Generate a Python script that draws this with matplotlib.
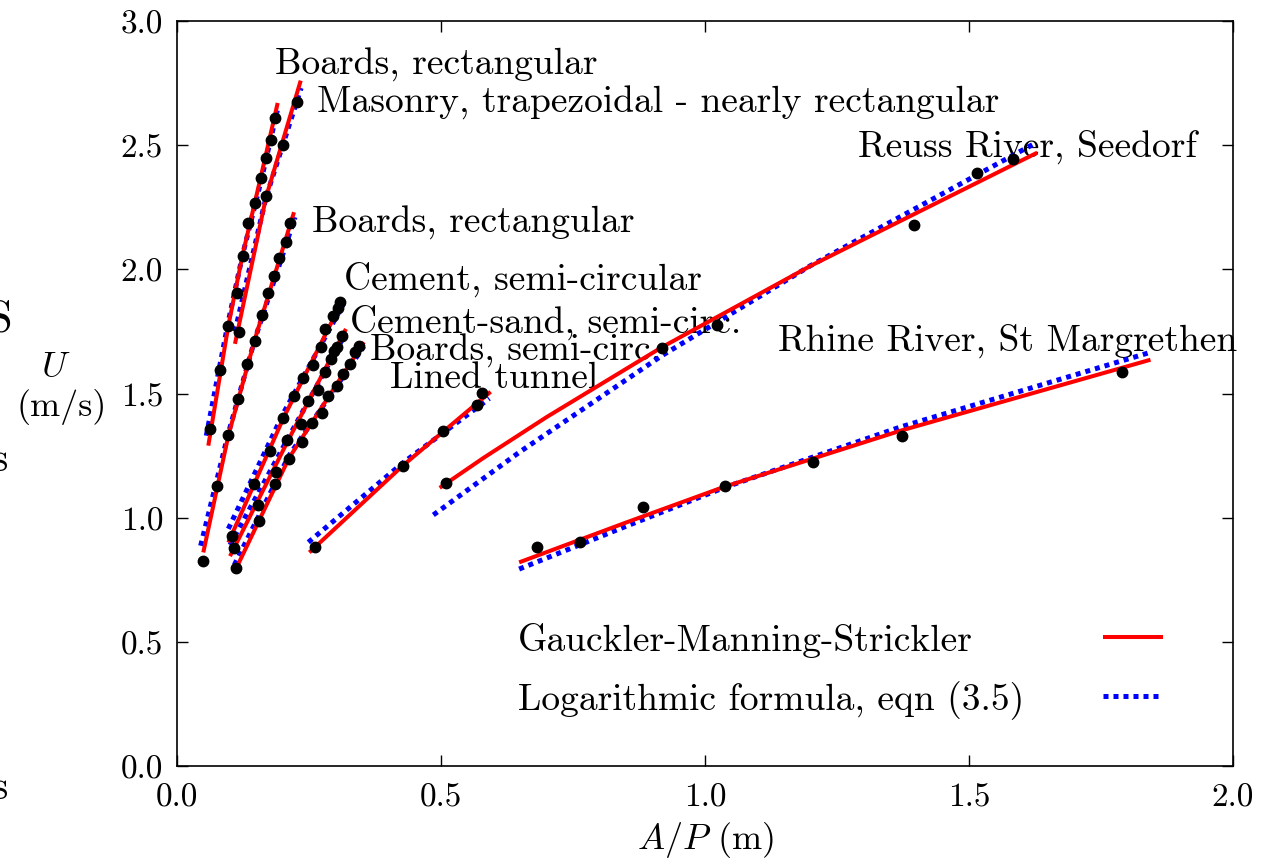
import matplotlib
matplotlib.use('Agg')
import matplotlib.pyplot as plt

plt.rcParams['font.family'] = 'cmr10'
plt.rcParams['mathtext.fontset'] = 'cm'
plt.rcParams['axes.unicode_minus'] = False

# ---------------- measured data: A/P (m) and U (m/s) ----------------
# Boards, rectangular (upper)
br1_x = [0.0625, 0.0814, 0.0972, 0.1131, 0.1244, 0.1350, 0.1477, 0.1585, 0.1680, 0.1775, 0.1856]
br1_u = [1.357, 1.596, 1.773, 1.905, 2.053, 2.187, 2.266, 2.367, 2.450, 2.521, 2.610]
br1_gms_x = [0.0593, 0.0972, 0.1244, 0.1585, 0.1907]
br1_gms_u = [1.290, 1.773, 2.060, 2.370, 2.670]
br1_log_x = [0.0555, 0.0972, 0.1244, 0.1585, 0.1900]
br1_log_u = [1.330, 1.790, 2.060, 2.350, 2.640]

# Masonry, trapezoidal - nearly rectangular
mas_x = [0.1174, 0.1686, 0.2002, 0.2267]
mas_u = [1.746, 2.294, 2.501, 2.673]
mas_gms_x = [0.1098, 0.1686, 0.2343]
mas_gms_u = [1.700, 2.290, 2.760]
mas_log_x = [0.1098, 0.1686, 0.2350]
mas_log_u = [1.750, 2.290, 2.730]

# Boards, rectangular (lower)
br2_x = [0.0498, 0.0763, 0.0972, 0.1150, 0.1320, 0.1477, 0.1604, 0.1718, 0.1843, 0.1938, 0.2059, 0.2140]
br2_u = [0.827, 1.126, 1.333, 1.478, 1.619, 1.710, 1.817, 1.904, 1.972, 2.044, 2.109, 2.187]
br2_gms_x = [0.0498, 0.0972, 0.1477, 0.2216]
br2_gms_u = [0.860, 1.330, 1.720, 2.230]
br2_log_x = [0.0448, 0.0972, 0.1477, 0.2235]
br2_log_u = [0.887, 1.340, 1.720, 2.210]

# Cement, semi-circular
cem_x = [0.1047, 0.1464, 0.1761, 0.2013, 0.2216, 0.2392, 0.2570, 0.2722, 0.2803, 0.2949, 0.3055, 0.3087]
cem_u = [0.925, 1.136, 1.270, 1.400, 1.491, 1.563, 1.615, 1.686, 1.760, 1.813, 1.843, 1.867]
cem_gms_x = [0.0972, 0.2013, 0.3150]
cem_gms_u = [0.900, 1.400, 1.881]
cem_log_x = [0.0972, 0.2013, 0.3150]
cem_log_u = [0.955, 1.420, 1.860]

# Cement-sand, semi-circ.
cs_x = [0.1080, 0.1540, 0.1875, 0.2078, 0.2343, 0.2487, 0.2676, 0.2803, 0.2917, 0.2970, 0.3025, 0.3120]
cs_u = [0.878, 1.051, 1.183, 1.314, 1.377, 1.468, 1.513, 1.588, 1.639, 1.671, 1.687, 1.733]
cs_gms_x = [0.1004, 0.2078, 0.3200]
cs_gms_u = [0.845, 1.300, 1.760]
cs_log_x = [0.1004, 0.2078, 0.3200]
cs_log_u = [0.890, 1.310, 1.745]

# Boards, semi-circ.
bs_x = [0.1117, 0.1559, 0.1856, 0.2121, 0.2373, 0.2551, 0.2741, 0.2866, 0.3036, 0.3150, 0.3277, 0.3371, 0.3453]
bs_u = [0.796, 0.988, 1.136, 1.236, 1.304, 1.381, 1.422, 1.489, 1.531, 1.579, 1.619, 1.666, 1.692]
bs_gms_x = [0.1086, 0.2121, 0.3540]
bs_gms_u = [0.780, 1.240, 1.707]
bs_log_x = [0.1086, 0.2121, 0.3540]
bs_log_u = [0.810, 1.250, 1.690]

# Lined tunnel
lt_x = [0.2614, 0.4274, 0.5044, 0.5676, 0.5771]
lt_u = [0.883, 1.209, 1.350, 1.454, 1.502]
lt_gms_x = [0.2506, 0.4274, 0.5940]
lt_gms_u = [0.860, 1.209, 1.507]
lt_log_x = [0.2487, 0.4274, 0.5915]
lt_log_u = [0.901, 1.220, 1.480]

# Reuss River, Seedorf
re_x = [0.509, 0.918, 1.022, 1.396, 1.515, 1.584]
re_u = [1.140, 1.682, 1.777, 2.180, 2.387, 2.444]
re_gms_x = [0.4975, 0.580, 0.700, 0.918, 1.200, 1.6294]
re_gms_u = [1.120, 1.240, 1.405, 1.686, 2.014, 2.470]
re_log_x = [0.4855, 0.650, 0.918, 1.200, 1.628]
re_log_u = [1.011, 1.266, 1.652, 2.015, 2.511]

# Rhine River, St Margrethen
rh_x = [0.6815, 0.7631, 0.8835, 1.0375, 1.2051, 1.3727, 1.7894]
rh_u = [0.883, 0.904, 1.044, 1.126, 1.223, 1.328, 1.585]
rh_gms_x = [0.648, 0.850, 1.0375, 1.370, 1.8437]
rh_gms_u = [0.820, 0.980, 1.125, 1.350, 1.636]
rh_log_x = [0.648, 0.850, 1.0375, 1.370, 1.839]
rh_log_u = [0.793, 0.965, 1.122, 1.365, 1.663]

# Labels: (text, x, baseline y)
label_texts = ['Boards, rectangular', 'Masonry, trapezoidal - nearly rectangular',
               'Boards, rectangular', 'Cement, semi-circular', 'Cement-sand, semi-circ.',
               'Boards, semi-circ.', 'Lined tunnel', 'Reuss River, Seedorf',
               'Rhine River, St Margrethen']
label_x = [0.1856, 0.2652, 0.2557, 0.3163, 0.3277, 0.3655, 0.4034, 1.2898, 1.1383]
label_y = [2.787, 2.634, 2.150, 1.921, 1.748, 1.635, 1.526, 2.457, 1.675]

legend_labels = ['Gauckler-Manning-Strickler', 'Logarithmic formula, eqn (3.5)']

x_ticks = [0.0, 0.5, 1.0, 1.5, 2.0]
y_ticks = [0.0, 0.5, 1.0, 1.5, 2.0, 2.5, 3.0]

# ---------------------------------------------------------------------
fig = plt.figure(figsize=(12.76, 8.62), dpi=100)
ax = fig.add_axes([177/1276, 95/862, 1056/1276, 745/862])

points = [(br1_x, br1_u), (mas_x, mas_u), (br2_x, br2_u), (cem_x, cem_u), (cs_x, cs_u),
          (bs_x, bs_u), (lt_x, lt_u), (re_x, re_u), (rh_x, rh_u)]
gms = [(br1_gms_x, br1_gms_u), (mas_gms_x, mas_gms_u), (br2_gms_x, br2_gms_u),
       (cem_gms_x, cem_gms_u), (cs_gms_x, cs_gms_u), (bs_gms_x, bs_gms_u),
       (lt_gms_x, lt_gms_u), (re_gms_x, re_gms_u), (rh_gms_x, rh_gms_u)]
logs = [(br1_log_x, br1_log_u), (mas_log_x, mas_log_u), (br2_log_x, br2_log_u),
        (cem_log_x, cem_log_u), (cs_log_x, cs_log_u), (bs_log_x, bs_log_u),
        (lt_log_x, lt_log_u), (re_log_x, re_log_u), (rh_log_x, rh_log_u)]

red_handle = None
blue_handle = None
for (lx, lu) in logs:
    l, = ax.plot(lx, lu, color='#0000ff', lw=3.6, linestyle=(0, (1, 1)),
                 dash_capstyle='butt', zorder=2)
    blue_handle = l
for (gx, gu) in gms:
    l, = ax.plot(gx, gu, color='#ff0000', lw=2.9, solid_capstyle='butt', zorder=3)
    red_handle = l
for (px, pu) in points:
    ax.plot(px, pu, 'o', color='black', ms=7.5, zorder=4)

for t, x, y in zip(label_texts, label_x, label_y):
    ax.text(x, y, t, fontsize=27, ha='left', va='baseline', zorder=1)

ax.set_xlim(0, 2)
ax.set_ylim(0, 3)
ax.set_xticks(x_ticks)
ax.set_yticks(y_ticks)
ax.tick_params(direction='in', top=True, right=True, length=8, width=1.0,
               labelsize=24)
ax.tick_params(axis='x', pad=12)
ax.tick_params(axis='y', pad=10)
for s in ax.spines.values():
    s.set_linewidth(1.2)

ax.set_xlabel('$A/P$ (m)', fontsize=26, labelpad=5)
fig.text(56/1276, 1 - 368/862, '$U$', fontsize=26, ha='center', va='center')
fig.text(62/1276, 1 - 407/862, '(m/s)', fontsize=26, ha='center', va='center')

leg = ax.legend([red_handle, blue_handle], legend_labels, loc='center right',
                bbox_to_anchor=((1163 - 177) / 1056, (767 - 671.5) / 745),
                frameon=False, markerfirst=False, fontsize=27, handlelength=1.6,
                handletextpad=2.1, borderpad=0, borderaxespad=0, labelspacing=0.6)

# left-align the legend texts (markers stay lined up on the right)
fig.canvas.draw()
renderer = fig.canvas.get_renderer()
texts = leg.get_texts()
widths = [t.get_window_extent(renderer).width for t in texts]
wmax = max(widths)
px_per_pt = fig.dpi / 72.0
for col in leg._legend_handle_box.get_children():
    for entry in col.get_children():
        txt_area = entry.get_children()[0]
        for i, t in enumerate(texts):
            if txt_area._text is t:
                entry.sep = entry.sep + (wmax - widths[i]) / px_per_pt

# cropped fragments of neighbouring text at the left edge
fig.text(0.0, 1 - 320/862, 'S', fontsize=32, fontweight='bold', ha='center', va='center')
fig.text(0.0, 1 - 460/862, 's', fontsize=30, ha='center', va='center')
fig.text(0.0, 1 - 788/862, 's', fontsize=30, ha='center', va='center')

fig.savefig('out.png', dpi=100)
